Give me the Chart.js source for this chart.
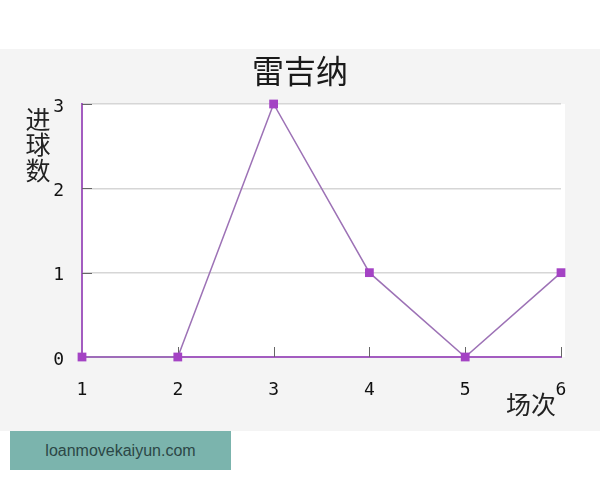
<!DOCTYPE html>
<html>
<head>
<meta charset="utf-8">
<script src="https://cdn.jsdelivr.net/npm/chart.js@4/dist/chart.umd.min.js"></script>
<style>
  body { margin: 0; background: #fff; }
  #wrap { position: relative; width: 600px; height: 480px; }
  #marca {
    position: absolute; left: 10px; top: 431px; width: 221px; height: 39px;
    background: #7bb4ad; color: #2c4746; font: 16px "Liberation Sans", Arial, sans-serif;
    line-height: 39px; text-align: center;
  }
</style>
</head>
<body>
<div id="wrap">
  <canvas id="grafico" width="600" height="480"></canvas>
  <div id="marca">loanmovekaiyun.com</div>
</div>
<script>
// datos del gráfico
const partidos = ['1', '2', '3', '4', '5', '6'];
const goles = [0, 0, 3, 1, 0, 1];
const ticksY = [0, 1, 2, 3];
const titulo = '雷吉纳';
const tituloY = ['进', '球', '数'];
const tituloX = '场次';

const morado = '#a35cc0';

// fondo gris, área blanca, marcas de eje hacia dentro y títulos de ejes
const decoracion = {
    id: 'decoracion',
    beforeDraw(chart) {
        const c = chart.ctx, a = chart.chartArea;
        c.save();
        c.fillStyle = '#fff';
        c.fillRect(0, 0, chart.width, chart.height);
        c.fillStyle = '#f4f4f4';
        c.fillRect(0, 49, chart.width, 382);
        c.fillStyle = '#fff';
        c.fillRect(a.left, a.top, a.right - a.left + 4, a.bottom - a.top);
        c.restore();
    },
    beforeDatasetsDraw(chart) {
        const c = chart.ctx, a = chart.chartArea;
        const x = chart.scales.x, y = chart.scales.y;
        c.save();
        c.strokeStyle = '#666';
        c.lineWidth = 1;
        c.beginPath();
        ticksY.forEach(v => {
            if (v === 0) return;
            const py = Math.round(y.getPixelForValue(v)) + 0.5;
            c.moveTo(a.left, py);
            c.lineTo(a.left + 10, py);
        });
        partidos.forEach((p, i) => {
            if (i === 0) return;
            const px = Math.round(x.getPixelForTick(i)) + 0.5;
            c.moveTo(px, a.bottom);
            c.lineTo(px, a.bottom - 10);
        });
        c.stroke();
        c.restore();
    },
    afterDraw(chart) {
        const c = chart.ctx;
        c.save();
        c.fillStyle = '#222';
        c.font = '25px "Noto Sans CJK SC"';
        c.textAlign = 'center';
        c.textBaseline = 'middle';
        tituloY.forEach((t, i) => c.fillText(t, 38, 119 + i * 25.5));
        c.fillText(tituloX, 531, 404);
        c.restore();
    }
};

new Chart(document.getElementById('grafico'), {
    type: 'line',
    data: {
        labels: partidos,
        datasets: [{
            data: goles,
            clip: false,
            borderColor: '#9d72b6',
            borderWidth: 1.5,
            pointStyle: 'rect',
            pointRadius: 6.2,
            pointBorderWidth: 0,
            pointBackgroundColor: '#a443c4',
            pointBorderColor: '#a443c4',
            tension: 0
        }]
    },
    options: {
        responsive: false,
        animation: false,
        layout: { padding: 0 },
        plugins: {
            legend: { display: false },
            tooltip: { enabled: false },
            title: {
                display: true,
                text: titulo,
                color: '#1a1a1a',
                font: { family: '"Noto Sans CJK SC"', size: 32, weight: 'normal' },
                padding: { top: 52, bottom: 13.6 }
            }
        },
        scales: {
            x: {
                offset: false,
                grid: { display: false, drawTicks: false },
                border: { display: true, color: morado, width: 2 },
                ticks: {
                    color: '#111',
                    padding: 23,
                    maxRotation: 0,
                    font: { family: '"DejaVu Sans Mono"', size: 18 }
                },
                afterFit(scale) { scale.height = 123; }
            },
            y: {
                min: 0,
                max: 3,
                grid: { color: '#d6d6d6', lineWidth: 1.5, drawTicks: false },
                border: { display: true, color: morado, width: 2 },
                ticks: {
                    stepSize: 1,
                    color: '#111',
                    padding: 18,
                    labelOffset: 3,
                    font: { family: '"DejaVu Sans Mono"', size: 18 }
                },
                afterFit(scale) { scale.width = 82; }
            },
            // eje vacío a la derecha, solo reserva el margen
            margen: {
                type: 'linear',
                position: 'right',
                grid: { display: false, drawTicks: false },
                border: { display: false },
                ticks: { display: false },
                afterFit(scale) { scale.width = 39; }
            }
        }
    },
    plugins: [decoracion]
});
</script>
</body>
</html>
